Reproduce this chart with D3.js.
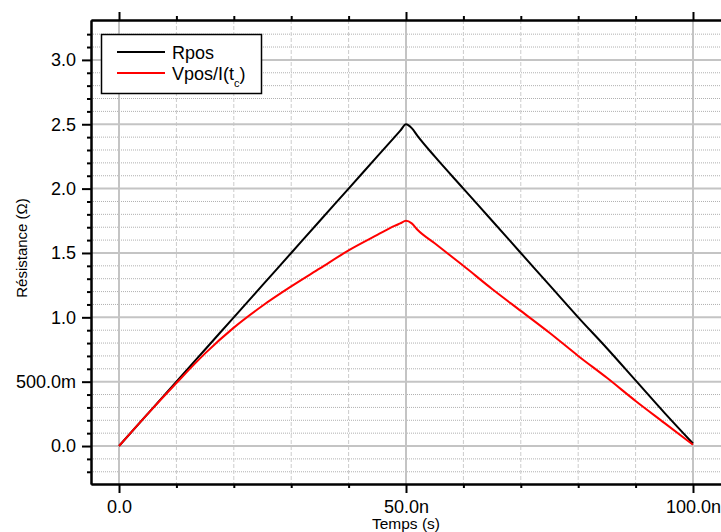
<!DOCTYPE html>
<html><head><meta charset="utf-8">
<script src="https://cdn.jsdelivr.net/npm/d3@7"></script>
<style>
body{margin:0;background:#fff;overflow:hidden}
svg{display:block;font-family:"Liberation Sans",Arial,sans-serif}
</style></head>
<body>
<svg id="c" width="721" height="532"></svg>
<script>
// ---- data (time in ns, resistance in ohm) ----
const timeNs = [0,5,10,15,20,25,30,35,40,45,48,49,50,51,52,55,60,65,70,75,80,85,90,95,100];
const rpos   = [0,0.25,0.50,0.75,1.00,1.25,1.50,1.75,2.00,2.25,2.40,2.45,2.50,2.47,2.41,2.25,2.00,1.75,1.50,1.25,1.00,0.76,0.51,0.26,0.02];
const vposI  = [0,0.25,0.49,0.72,0.92,1.09,1.24,1.38,1.52,1.64,1.71,1.73,1.75,1.73,1.68,1.575,1.40,1.22,1.05,0.88,0.70,0.53,0.35,0.18,0.01];
const xMajorTicks = [0,50,100];
const xMinorTicks = [10,20,30,40,60,70,80,90];
const yMajorTicks = [0,0.5,1.0,1.5,2.0,2.5,3.0];
const yTickLabels = ["0.0","500.0m","1.0","1.5","2.0","2.5","3.0"];
const xTickLabels = ["0.0","50.0n","100.0n"];
const yMinorTicks = [-0.2,-0.1,0.1,0.2,0.3,0.4,0.6,0.7,0.8,0.9,1.1,1.2,1.3,1.4,1.6,1.7,1.8,1.9,2.1,2.2,2.3,2.4,2.6,2.7,2.8,2.9,3.1,3.2];
const seriesNames = ["Rpos","Vpos/I(t"];
const seriesColors = ["#000000","#ff0000"];

const svg = d3.select("#c");
const L=91, T=20, R=721, B=484;
const x = d3.scaleLinear().domain([-4.88,104.88]).range([L,R]);
const y = d3.scaleLinear().domain([-0.295,3.31]).range([B,T]);

const g = svg.append("g");
// minor grid
g.selectAll(".hmin").data(yMinorTicks).join("line")
  .attr("x1",L).attr("x2",R).attr("y1",d=>y(d)).attr("y2",d=>y(d))
  .attr("stroke","#b0b0b0").attr("stroke-width",1).attr("stroke-dasharray","1,1");
g.selectAll(".vmin").data(xMinorTicks).join("line")
  .attr("y1",T).attr("y2",B).attr("x1",d=>x(d)).attr("x2",d=>x(d))
  .attr("stroke","#cccccc").attr("stroke-width",1).attr("stroke-dasharray","4,2");
// major grid
g.selectAll(".hmaj").data(yMajorTicks).join("line")
  .attr("x1",L).attr("x2",R).attr("y1",d=>y(d)).attr("y2",d=>y(d))
  .attr("stroke","#c4c4c4").attr("stroke-width",2);
g.selectAll(".vmaj").data(xMajorTicks).join("line")
  .attr("y1",T).attr("y2",B).attr("x1",d=>x(d)).attr("x2",d=>x(d))
  .attr("stroke","#c4c4c4").attr("stroke-width",2);

// curves
const line = d3.line().x((d,i)=>x(timeNs[i])).y(d=>y(d)).curve(d3.curveMonotoneX);
[rpos,vposI].forEach((s,k)=>{
  svg.append("path").datum(s).attr("d",line).attr("fill","none")
    .attr("stroke",seriesColors[k]).attr("stroke-width",2).attr("stroke-linejoin","round");
});

// axes
function styleAxis(sel){
  sel.selectAll("path.domain").attr("stroke","#000").attr("stroke-width",2);
  sel.selectAll(".tick line").attr("stroke","#000").attr("stroke-width",2);
  sel.selectAll("text").attr("font-family","'Liberation Sans',Arial,sans-serif").attr("font-size",18).attr("fill","#000");
}
const yAx = svg.append("g").attr("transform",`translate(${L},0)`)
  .call(d3.axisLeft(y).tickValues(yMajorTicks).tickSize(9).tickSizeOuter(0).tickPadding(6)
    .tickFormat((d,i)=>yTickLabels[i]));
styleAxis(yAx);
const yAxMin = svg.append("g").attr("transform",`translate(${L},0)`)
  .call(d3.axisLeft(y).tickValues(yMinorTicks).tickSize(4).tickSizeOuter(0).tickFormat(""));
styleAxis(yAxMin);

const xAx = svg.append("g").attr("transform",`translate(0,${B})`)
  .call(d3.axisBottom(x).tickValues(xMajorTicks).tickSize(9).tickSizeOuter(0).tickPadding(7)
    .tickFormat((d,i)=>xTickLabels[i]));
styleAxis(xAx);
const xAxMin = svg.append("g").attr("transform",`translate(0,${B})`)
  .call(d3.axisBottom(x).tickValues(xMinorTicks).tickSize(4).tickSizeOuter(0).tickFormat(""));
styleAxis(xAxMin);

const xTop = svg.append("g").attr("transform",`translate(0,${T})`)
  .call(d3.axisTop(x).tickValues(xMajorTicks).tickSize(8).tickSizeOuter(0).tickFormat(""));
styleAxis(xTop);
const xTopMin = svg.append("g").attr("transform",`translate(0,${T})`)
  .call(d3.axisTop(x).tickValues(xMinorTicks).tickSize(4).tickSizeOuter(0).tickFormat(""));
styleAxis(xTopMin);

// axis titles
svg.append("text").attr("transform","translate(27,248) rotate(-90)")
  .attr("text-anchor","middle").attr("font-size",15).text("Résistance (Ω)");
svg.append("text").attr("x",406).attr("y",529)
  .attr("text-anchor","middle").attr("font-size",15.5).text("Temps (s)");

// legend
const lg = svg.append("g");
lg.append("rect").attr("x",101.5).attr("y",34.5).attr("width",160).attr("height",59)
  .attr("fill","#fff").attr("stroke","#000").attr("stroke-width",1.5);
[52,73].forEach((ly,k)=>{
  lg.append("line").attr("x1",117).attr("x2",165).attr("y1",ly).attr("y2",ly)
    .attr("stroke",seriesColors[k]).attr("stroke-width",2);
});
lg.append("text").attr("x",172).attr("y",58.5).attr("font-size",18).text(seriesNames[0]);
const t2 = lg.append("text").attr("x",172).attr("y",80).attr("font-size",18);
t2.append("tspan").text(seriesNames[1]);
t2.append("tspan").attr("font-size",11).attr("dy",7).text("c");
t2.append("tspan").attr("dy",-7).text(")");
</script>
</body></html>
